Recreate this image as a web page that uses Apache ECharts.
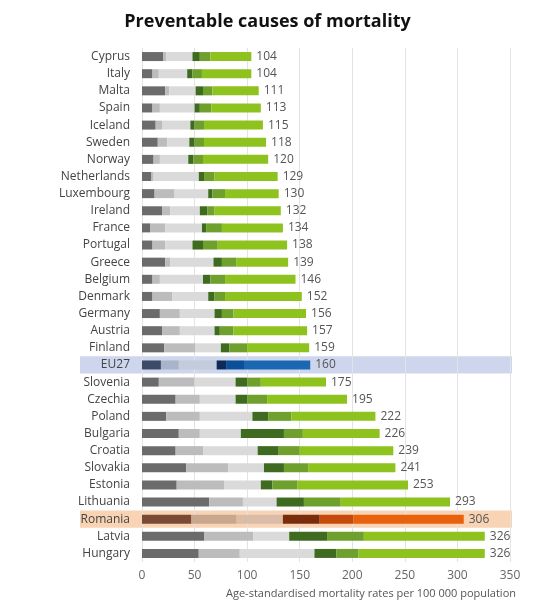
<!DOCTYPE html><html><head><meta charset="utf-8"><script src="https://cdn.jsdelivr.net/npm/echarts@6/dist/echarts.min.js"></script>
<style>html,body{margin:0;background:#fff}#c{width:535px;height:606px}</style></head><body><div id="c"></div><script>
const countries=["Cyprus","Italy","Malta","Spain","Iceland","Sweden","Norway","Netherlands","Luxembourg","Ireland","France","Portugal","Greece","Belgium","Denmark","Germany","Austria","Finland","EU27","Slovenia","Czechia","Poland","Bulgaria","Croatia","Slovakia","Estonia","Lithuania","Romania","Latvia","Hungary"];
const totals=[104,104,111,113,115,118,120,129,130,132,134,138,139,146,152,156,157,159,160,175,195,222,226,239,241,253,293,306,326,326];
// cumulative breakpoints of segments 1..5 (segment 6 ends at total)
const cut1=[20,10,22,10,13,15,11,9,12,19,8,10,22,10,10,17,19,21,18,16,32,23,35,32,42,33,64,47,59,54];
const cut2=[23,16,26,17,19,24,17,11,31,27,22,22,27,17,29,36,36,51,35,50,55,55,55,58,82,78,96,90,106,93];
const cut3=[48,43,51,50,46,45,44,54,63,55,57,48,68,58,63,69,69,75,71,89,89,105,94,110,116,113,128,134,140,164];
const cut4=[55,48,58,55,50,50,49,59,67,62,61,58,76,65,69,76,74,83,80,100,100,120,135,130,135,124,154,169,176,185];
const cut5=[65,57,67,66,59,59,58,69,79,69,76,72,90,79,79,87,87,100,97,113,119,142,153,150,158,148,189,201,211,206];
const segNames=["s1","s2","s3","s4","s5","s6"];
const base=["#6b6b6b","#bcbcbc","#dadada","#3f6b20","#6f9f2d","#8dc21f"];
const eu=["#3b4a66","#a9b4c8","#c3ccda","#0c2b58","#0b4f98","#1b67b1"];
const ro=["#7a4a35","#c9a68e","#dabca8","#7a2d0a","#c44b0c","#e8610d"];
const cuts=[cut1,cut2,cut3,cut4,cut5,totals];
const series=segNames.map((n,k)=>({name:n,type:'bar',stack:'a',barWidth:9,
 data:countries.map((c,i)=>{const v=cuts[k][i]-(k?cuts[k-1][i]:0);
  const col=c==="EU27"?eu[k]:c==="Romania"?ro[k]:base[k];return {value:v,itemStyle:{color:col}};}),
 label:k===5?{show:true,position:'right',color:'#555',fontSize:12,fontFamily:'Open Sans',formatter:p=>totals[p.dataIndex]}:{show:false}}));
const chart=echarts.init(document.getElementById('c'));
chart.setOption({animation:false,
 title:{text:'Preventable causes of mortality',left:'center',top:8,textStyle:{fontSize:18,fontWeight:'bold',color:'#111',fontFamily:'Open Sans'}},
 grid:{left:142,right:25,top:48,bottom:44},
 xAxis:{type:'value',min:0,max:350,interval:50,axisLine:{show:false},axisTick:{show:false},
  splitLine:{lineStyle:{color:'#e3e3e3'}},axisLabel:{color:'#666',fontSize:12,fontFamily:'Open Sans'},
  name:'Age-standardised mortality rates per 100 000 population',nameLocation:'middle',nameGap:26,
  nameTextStyle:{color:'#555',fontSize:11,fontFamily:'Open Sans',padding:[0,0,0,90]}},
 yAxis:{type:'category',inverse:true,data:countries,axisLine:{show:false},axisTick:{show:false},
  axisLabel:{color:'#444',fontSize:12,fontFamily:'Open Sans',margin:12}},
 series});
function band(name,color){const y=chart.convertToPixel({yAxisIndex:0},name);const h=(566-48)/countries.length;
 return {type:'rect',z:-1,shape:{x:80,y:y-h/2,width:432,height:h},style:{fill:color}};}
chart.setOption({graphic:[band('EU27','#cdd6ec'),band('Romania','#f8d3b4')]});
</script></body></html>
